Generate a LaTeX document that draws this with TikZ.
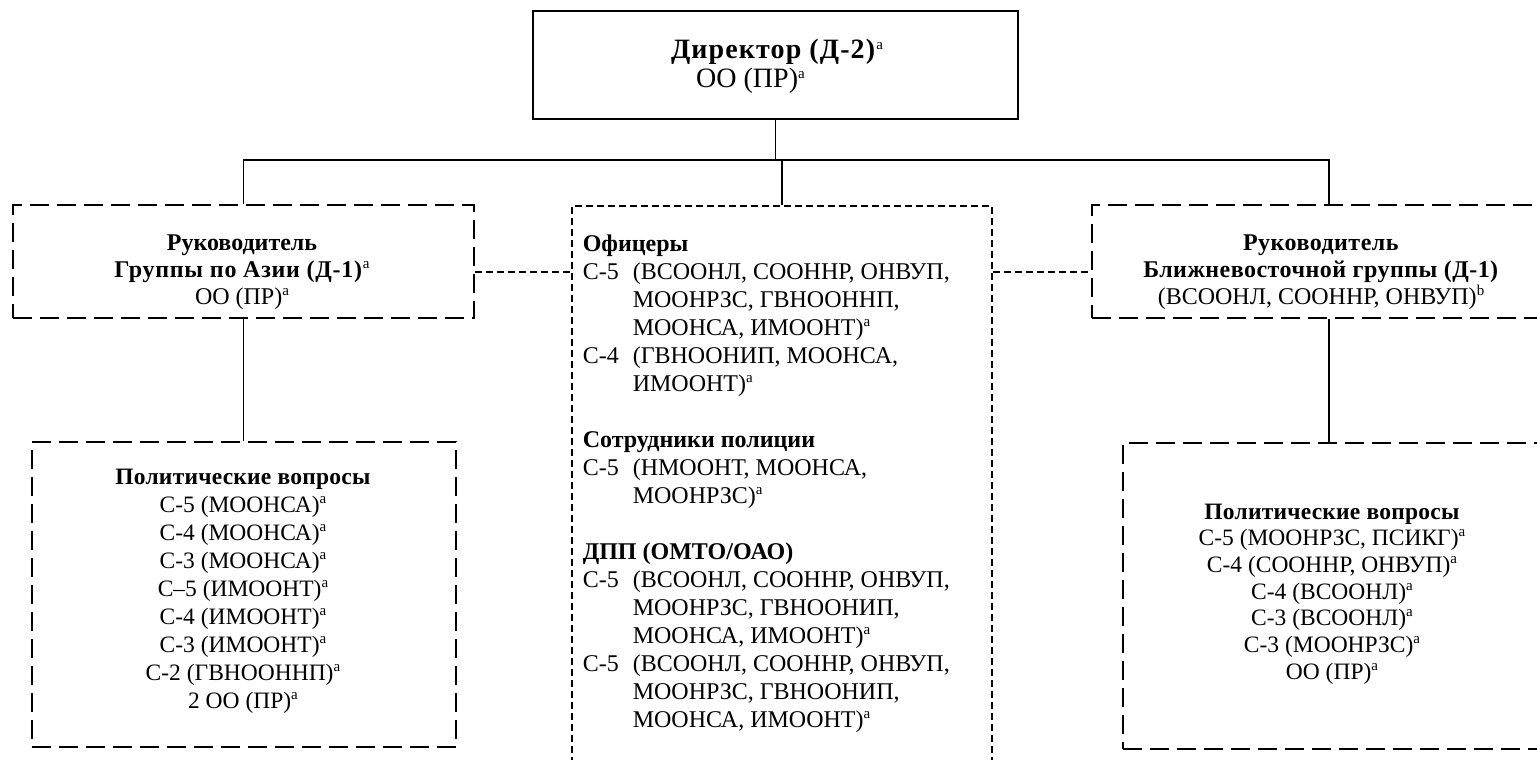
\documentclass[tikz,border=0pt]{standalone}
\usepackage{fontspec}
\setmainfont{Liberation Serif}
\newcommand{\fn}[1]{\raisebox{9pt}{\fontsize{15}{15}\selectfont #1}}
\newcommand{\grade}[1]{\makebox[50pt][l]{#1}}
\newcommand{\cont}{\hspace*{50pt}}
\newcommand{\head}[2]{\textbf{\addfontfeatures{LetterSpace=#1}#2}}
\begin{document}
\begin{tikzpicture}[x=1pt,y=-1pt,line width=1.6pt,
		box/.style={draw,rectangle,inner sep=0pt},
		dbox/.style={box,dash pattern=on 19pt off 8pt},
		mbox/.style={box,dash pattern=on 7pt off 4pt},
		dlink/.style={dash pattern=on 7pt off 4pt},
		txt/.style={inner sep=0pt,align=center,font=\fontsize{24}{27}\selectfont}]
		\useasboundingbox (0,0) rectangle (1537,760);
		\clip (0,0) rectangle (1537,760);
		\coordinate (bus) at (0,160);
		\node[box,minimum width=485pt,minimum height=108pt] (dir) at (775.5,65) {};
		\node[txt,font=\fontsize{28}{29}\selectfont] (dirtxt) at (777,66) {\head{4}{Директор (Д-2)}\fn{a}\\ОО (ПР)\fn{a}\hspace*{53pt}};
		\node[dbox,minimum width=461pt,minimum height=113pt] (asia) at (243.5,261.5) {};
		\node[txt] (asiatxt) at (242,272) {\head{0}{Руководитель}\\\head{3}{Группы по Азии (Д-1)}\fn{a}\\ОО (ПР)\fn{a}};
		\node[mbox,minimum width=420pt,minimum height=600pt,anchor=north west] (mid) at (571,205) {};
		\node[txt,align=left,anchor=north west,font=\fontsize{24}{28}\selectfont] (midtxt) at (582,234) {\textbf{Офицеры}\\
			\grade{С-5}(ВСООНЛ, СООННР, ОНВУП,\\
			\cont МООНРЗС, ГВНООННП,\\
			\cont МООНСА, ИМООНТ)\fn{a}\\
			\grade{С-4}(ГВНООНИП, МООНСА,\\
			\cont ИМООНТ)\fn{a}\\[28pt]
			\textbf{Сотрудники полиции}\\
			\grade{С-5}(НМООНТ, МООНСА,\\
			\cont МООНРЗС)\fn{a}\\[28pt]
			\textbf{ДПП (ОМТО/ОАО)}\\
			\grade{С-5}(ВСООНЛ, СООННР, ОНВУП,\\
			\cont МООНРЗС, ГВНООНИП,\\
			\cont МООНСА, ИМООНТ)\fn{a}\\
			\grade{С-5}(ВСООНЛ, СООННР, ОНВУП,\\
			\cont МООНРЗС, ГВНООНИП,\\
			\cont МООНСА, ИМООНТ)\fn{a}};
		\node[dbox,minimum width=474pt,minimum height=113pt] (meast) at (1329,261.5) {};
		\node[txt] (measttxt) at (1321,272) {\head{2}{Руководитель}\\\head{2}{Ближневосточной группы (Д-1)}\\(ВСООНЛ, СООННР, ОНВУП)\fn{b}};
		\node[dbox,minimum width=424pt,minimum height=305pt] (polasia) at (244,594.5) {};
		\node[txt,font=\fontsize{23.5}{28}\selectfont] (polasiatxt) at (243,591) {\head{1}{Политические вопросы}\\
			С-5 (МООНСА)\fn{a}\\С-4 (МООНСА)\fn{a}\\С-3 (МООНСА)\fn{a}\\
			С–5 (ИМООНТ)\fn{a}\\С-4 (ИМООНТ)\fn{a}\\С-3 (ИМООНТ)\fn{a}\\
			С-2 (ГВНООННП)\fn{a}\\2 ОО (ПР)\fn{a}};
		\node[dbox,minimum width=440pt,minimum height=306pt,anchor=north west] (polme) at (1122,442) {};
		\node[txt,font=\fontsize{23.5}{26.7}\selectfont] (polmetxt) at (1332,594) {\head{1}{Политические вопросы}\\
			С-5 (МООНРЗС, ПСИКГ)\fn{a}\\С-4 (СООННР, ОНВУП)\fn{a}\\С-4 (ВСООНЛ)\fn{a}\\
			С-3 (ВСООНЛ)\fn{a}\\С-3 (МООНРЗС)\fn{a}\\ОО (ПР)\fn{a}};
		\draw (dir.south) -- (dir.south |- bus);
		\draw (asia.north) |- (meast.north |- bus) -- (meast.north);
		\draw (mid.north) -- (mid.north |- bus);
		\draw (asia.south) -- (asia.south |- polasia.north);
		\draw (meast.south) -- (meast.south |- polme.north);
		\draw[dlink] (asia.east |- asiatxt) -- (mid.west |- asiatxt);
		\draw[dlink] (mid.east |- measttxt) -- (meast.west |- measttxt);
\end{tikzpicture}
\end{document}
